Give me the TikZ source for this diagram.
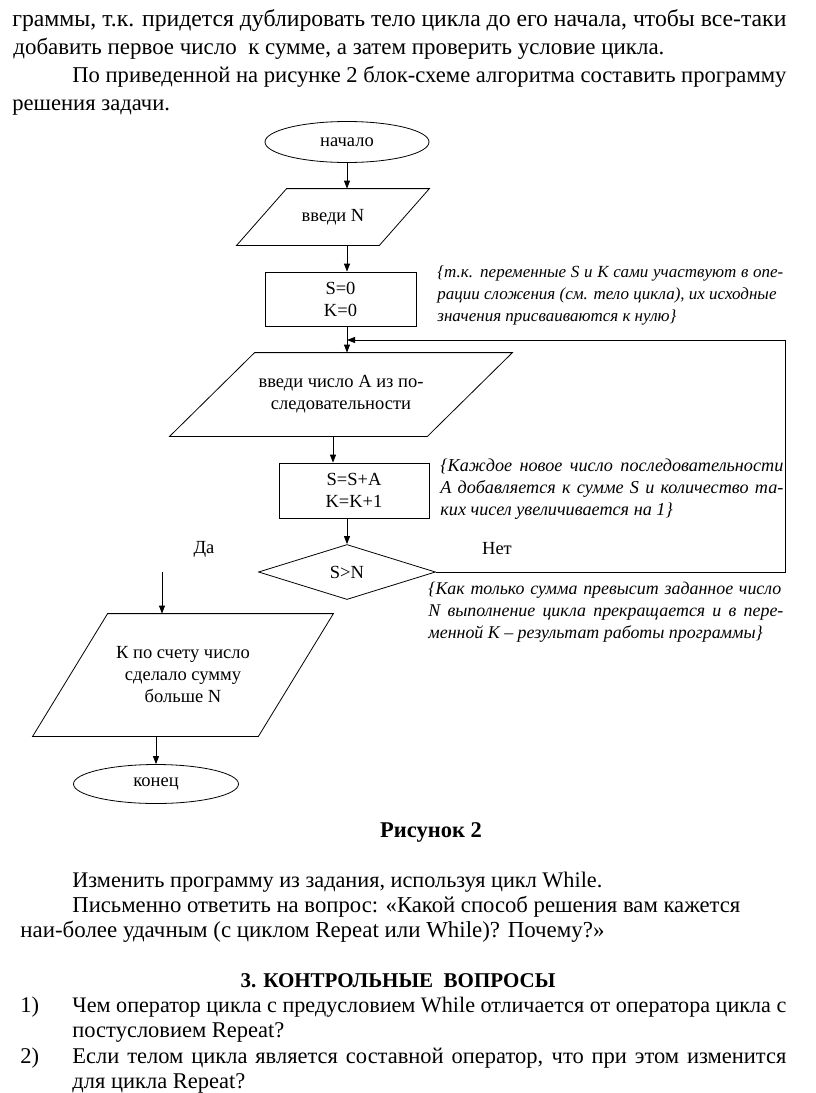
\documentclass[tikz,border=0pt]{standalone}
\usepackage{fontspec}
\setmainfont{Liberation Serif}
\usetikzlibrary{shapes.geometric,arrows.meta}

% set a line at the size that gives it the wanted width
\newlength\fitw
\newcommand\fitline[2]{\settowidth\fitw{\fontsize{10pt}{12pt}\selectfont #2}%
  \pgfmathsetmacro\fitsz{10*#1/\fitw}\global\let\lastsz\fitsz
  \fontsize{\fitsz pt}{\fitsz pt}\selectfont #2}

\begin{document}
\begin{tikzpicture}[x=1pt,y=-1pt,line width=0.8pt,
    >={Triangle[length=8pt,width=6pt]},
    txt/.style={anchor=base west,inner sep=0pt,font=\fontsize{22.5}{27}\selectfont},
    note/.style={anchor=west,inner sep=0pt,align=left,font=\fontsize{18}{22}\selectfont\itshape},
    lbl/.style={inner sep=0pt,font=\fontsize{18.5}{21}\selectfont},
    startstop/.style={draw,ellipse,inner sep=0pt,minimum width=164,minimum height=41,font=\fontsize{18.5}{21}\selectfont},
    io/.style={rectangle,inner sep=0pt,align=center,font=\fontsize{18.5}{22}\selectfont},
    process/.style={draw,rectangle,inner sep=0pt,minimum width=150,minimum height=55,align=center,font=\fontsize{18.5}{22}\selectfont},
    decision/.style={draw,diamond,inner sep=0pt,minimum width=177,minimum height=55,font=\fontsize{18.5}{21}\selectfont}]
\useasboundingbox (0,0) rectangle (816,1093);

% text above the figure
\node[txt] (t1) at (12,26) {\fitline{774}{граммы, т.к. придется дублировать тело цикла до его начала, чтобы все-таки}};
\node[txt] (t2) at (13,54) {\fitline{651}{добавить первое число\ \ к сумме, а затем проверить условие цикла.}};
\node[txt] (t3) at (72,82) {\fitline{714}{По приведенной на рисунке 2 блок-схеме алгоритма составить программу}};
\node[txt] (t4) at (12,110) {\fontsize{\lastsz pt}{\lastsz pt}\selectfont решения задачи.};

% flowchart
\node[startstop] (start) at (347,142) {начало};
\node[io,minimum width=142,minimum height=56] (inN) at (333,217) {введи N};
\node[process,minimum width=151,minimum height=54] (init) at (340.5,299) {S=0\\K=0};
\node[io,minimum width=257,minimum height=83] (inA) at (341,394.5) {введи число А из по-\\следовательности};
\node[process] (body) at (354,490.5) {S=S+A\\K=K+1};
\node[decision] (cond) at (347,572) {S>N};
\node[io,minimum width=225,minimum height=122] (res) at (183,675) {К по счету число\\сделало сумму\\больше N};
\node[startstop,minimum width=165,minimum height=39] (fin) at (156,784) {конец};

\draw ([xshift=25pt]inN.north west) -- ([xshift=25pt]inN.north east) -- ([xshift=-25pt]inN.south east) -- ([xshift=-25pt]inN.south west) -- cycle;
\draw ([xshift=42.5pt]inA.north west) -- ([xshift=42.5pt]inA.north east) -- ([xshift=-42.5pt]inA.south east) -- ([xshift=-42.5pt]inA.south west) -- cycle;
\draw ([xshift=37.5pt]res.north west) -- ([xshift=37.5pt]res.north east) -- ([xshift=-37.5pt]res.south east) -- ([xshift=-37.5pt]res.south west) -- cycle;

\node[lbl] (yes) at (204,549) {Да};
\node[lbl] (no) at (497,549) {Нет};

\coordinate (loop) at (785,340);
\coordinate (yesend) at (162,572);

\draw[->] (start.south) -- (start.south |- inN.north);
\draw[->] (inN.south -| start) -- (init.north -| start);
\draw[->] (init.south -| start) -- (inA.north -| start);
\draw[->] (inA.south -| inN) -- (body.north -| inN);
\draw[->] (body.south -| start) -- (cond.north);
\draw[->] (cond.east) -| (loop) -- (loop -| start);
\draw[->] (yesend) -- (yesend |- res.north);
\draw[->] (res.south -| fin) -- (fin.north);

% comments
\node[note,font=\fontsize{17}{22}\selectfont\itshape] (c1) at (437,295) {\makebox[346pt][s]{\{т.к. переменные S и K сами участвуют в опе-}\\рации сложения (см. тело цикла), их исходные\\значения присваиваются к нулю\}};
\node[note,font=\fontsize{18.2}{22}\selectfont\itshape] (c2) at (440,489) {\makebox[343pt][s]{\{Каждое новое число последовательности}\\\makebox[343pt][s]{А добавляется к сумме S и количество та-}\\ких чисел увеличивается на 1\}};
\node[note,font=\fontsize{17.9}{22}\selectfont\itshape] (c3) at (428,612) {\makebox[353pt][s]{\{Как только сумма превысит заданное число}\\\makebox[355pt][s]{N выполнение цикла прекращается и в пере-}\\менной К – результат работы программы\}};

% text below the figure
\node[txt,anchor=base,font=\fontsize{22.5}{27}\selectfont\bfseries] (cap) at (431,837) {Рисунок 2};
\node[txt] (b1) at (72,887) {\fitline{530}{Изменить программу из задания, используя цикл While.}};
\node[txt] (b2) at (72,912) {\fitline{668}{Письменно ответить на вопрос: «Какой способ решения вам кажется}};
\node[txt] (b3) at (20,937) {\fitline{584}{наи-более удачным (с циклом Repeat или While)? Почему?»}};
\node[txt,anchor=base,font=\fontsize{21}{27}\selectfont\bfseries] (head) at (398,987) {3. КОНТРОЛЬНЫЕ\ \ ВОПРОСЫ};
\node[txt] (n1) at (20,1012) {1)};
\node[txt] (q1) at (72,1012) {\fitline{714}{Чем оператор цикла с предусловием While отличается от оператора цикла с}};
\node[txt] (q1b) at (72,1037) {постусловием Repeat?};
\node[txt] (n2) at (20,1063) {2)};
\node[txt] (q2) at (72,1063) {\makebox[714pt][s]{Если телом цикла является составной оператор, что при этом изменится}};
\node[txt] (q2b) at (72,1088) {для цикла Repeat?};
\end{tikzpicture}
\end{document}
